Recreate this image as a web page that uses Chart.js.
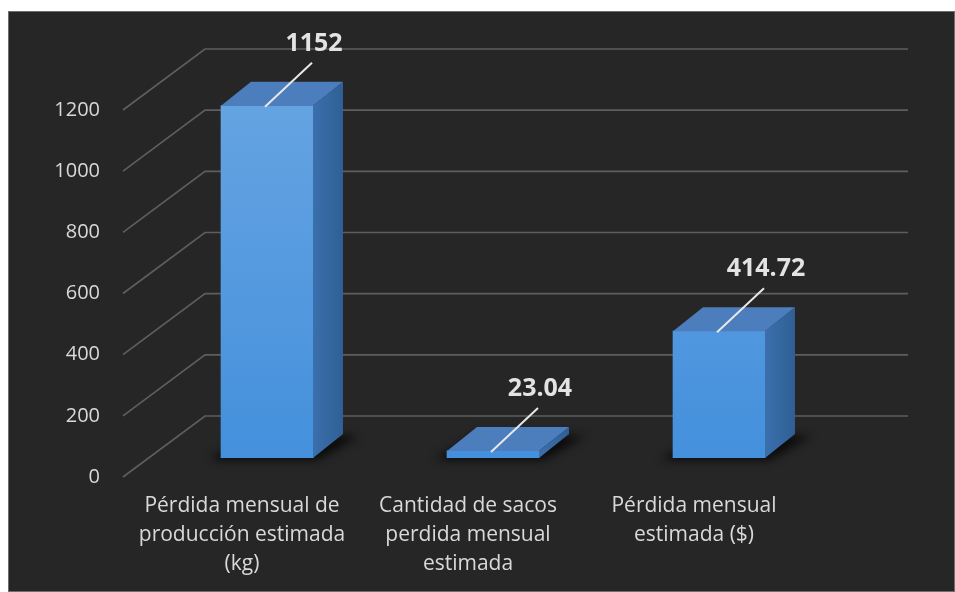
<!DOCTYPE html>
<html>
<head>
<meta charset="utf-8">
<script src="https://cdn.jsdelivr.net/npm/chart.js@4.4.1/dist/chart.umd.min.js"></script>
<style>
  body { margin: 0; background: #ffffff; }
  #panel {
    position: absolute; left: 8px; top: 11px;
    width: 947px; height: 581px;
    background: #262626;
    box-shadow: inset 0 0 0 1px #6e6e6e;
  }
</style>
</head>
<body>
<div id="panel"><canvas id="lossChart" width="947" height="581"></canvas></div>
<script>
const categories = [
  ["Pérdida mensual de", "producción estimada", "(kg)"],
  ["Cantidad de sacos", "perdida mensual", "estimada"],
  ["Pérdida mensual", "estimada ($)"]
];
const lossValues = [1152, 23.04, 414.72];
const yTicks = [0, 200, 400, 600, 800, 1000, 1200];

// depth of each bar block, and of the floor/back wall
const DX = 30, DY = 24;
const FRONT_X = -31, FRONT_Y = 19;
const BACK_X = 51, BACK_Y = -42, BACK_RIGHT = 76;

const labelColor = '#d9d9d9';

// back wall + floor gridlines, plus the floor shadow under each block
const wallGrid = {
  id: 'wallGrid',
  beforeDatasetsDraw(chart) {
    const { ctx, chartArea, scales: { y } } = chart;
    ctx.save();
    ctx.strokeStyle = '#5e5e5e';
    ctx.lineWidth = 1.7;
    y.ticks.forEach(t => {
      const py = y.getPixelForValue(t.value);
      ctx.beginPath();
      ctx.moveTo(chartArea.left + FRONT_X, py + FRONT_Y);
      ctx.lineTo(chartArea.left + BACK_X, py + BACK_Y);
      ctx.lineTo(chartArea.right + BACK_RIGHT, py + BACK_Y);
      ctx.stroke();
    });

    ctx.filter = 'blur(5px)';
    ctx.fillStyle = 'rgba(0,0,0,0.75)';
    chart.getDatasetMeta(0).data.forEach(bar => {
      const { x, base, width } = bar.getProps(['x', 'base', 'width'], true);
      const l = x - width / 2, r = x + width / 2;
      ctx.beginPath();
      ctx.moveTo(l - 12, base + 2);
      ctx.lineTo(r + 4, base + 2);
      ctx.lineTo(r + DX + 16, base - DY + 2);
      ctx.lineTo(l + DX, base - DY);
      ctx.closePath();
      ctx.fill();
    });
    ctx.restore();
  }
};

// right side and top faces of each block, then the value callouts
const barDepth = {
  id: 'barDepth',
  afterDatasetsDraw(chart) {
    const { ctx } = chart;
    const meta = chart.getDatasetMeta(0);
    ctx.save();
    meta.data.forEach((bar, i) => {
      const { x, y, base, width } = bar.getProps(['x', 'y', 'base', 'width'], true);
      const l = x - width / 2, r = x + width / 2;

      const side = ctx.createLinearGradient(r, 0, r + DX, 0);
      side.addColorStop(0, '#3b70ad');
      side.addColorStop(1, '#2f5f95');
      ctx.fillStyle = side;
      ctx.beginPath();
      ctx.moveTo(r, y);
      ctx.lineTo(r + DX, y - DY);
      ctx.lineTo(r + DX, base - DY);
      ctx.lineTo(r, base);
      ctx.closePath();
      ctx.fill();

      ctx.fillStyle = '#4c7ebd';
      ctx.beginPath();
      ctx.moveTo(l, y);
      ctx.lineTo(l + DX, y - DY);
      ctx.lineTo(r + DX, y - DY);
      ctx.lineTo(r, y);
      ctx.closePath();
      ctx.fill();

      // callout
      ctx.strokeStyle = '#e8e8e8';
      ctx.lineWidth = 2;
      ctx.beginPath();
      ctx.moveTo(x - 2, y + 1);
      ctx.lineTo(x + 45, y - 43);
      ctx.stroke();

      ctx.fillStyle = '#e3e3e3';
      ctx.font = 'bold 25px "Open Sans"';
      ctx.textAlign = 'center';
      ctx.textBaseline = 'alphabetic';
      ctx.fillText(String(lossValues[i]), x + 47, y - 55);
    });
    ctx.restore();
  }
};

const ctx = document.getElementById('lossChart').getContext('2d');

new Chart(ctx, {
  type: 'bar',
  data: {
    labels: categories,
    datasets: [{
      data: lossValues,
      barThickness: 92,
      borderWidth: 0,
      backgroundColor: (c) => {
        const area = c.chart.chartArea;
        if (!area) return '#5599dd';
        const g = c.chart.ctx.createLinearGradient(0, area.top, 0, area.bottom);
        g.addColorStop(0, '#66a4e2');
        g.addColorStop(1, '#4490dc');
        return g;
      }
    }]
  },
  options: {
    responsive: false,
    animation: false,
    devicePixelRatio: 1,
    layout: { padding: { top: 80, right: 123, left: 0, bottom: 0 } },
    plugins: { legend: { display: false }, tooltip: { enabled: false } },
    scales: {
      x: {
        grid: { display: false, drawTicks: false },
        border: { display: false },
        ticks: {
          color: labelColor,
          font: { family: '"Open Sans"', size: 21, lineHeight: 1.38 },
          padding: 34,
          labelOffset: -25,
          maxRotation: 0,
          autoSkip: false
        },
        afterFit: (s) => { s.height = 134; }
      },
      y: {
        min: yTicks[0],
        max: yTicks[yTicks.length - 1],
        grid: { display: false, drawTicks: false },
        border: { display: false },
        afterBuildTicks: (s) => { s.ticks = yTicks.map(v => ({ value: v })); },
        ticks: {
          color: labelColor,
          font: { family: '"Open Sans"', size: 20 },
          padding: 54,
          labelOffset: FRONT_Y,
          callback: (v) => String(v)
        },
        afterFit: (s) => { s.width = 146; }
      }
    }
  },
  plugins: [wallGrid, barDepth]
});
</script>
</body>
</html>
